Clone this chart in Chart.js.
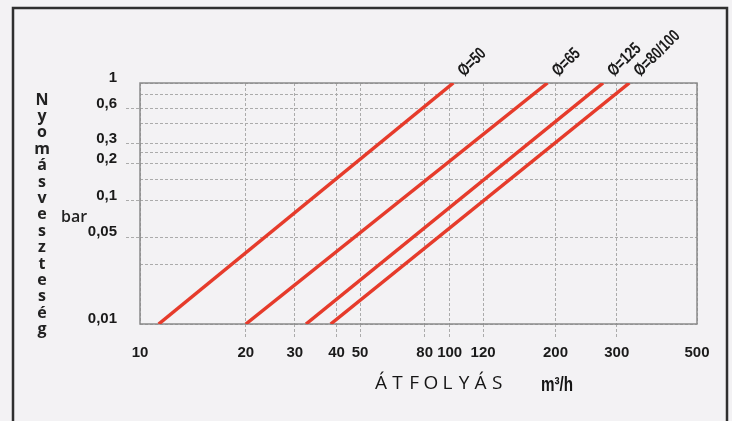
<!DOCTYPE html>
<html>
<head>
<meta charset="utf-8">
<script src="https://cdn.jsdelivr.net/npm/chart.js@4/dist/chart.umd.min.js"></script>
<style>
  html, body { margin: 0; padding: 0; background: #f3f2f4; }
  canvas { display: block; }
</style>
</head>
<body>
<canvas id="chart" width="732" height="421"></canvas>
<script>
// pipe sizes, flow where each line starts (0,01 bar) and where it ends (1 bar)
const pipeLabels = ['Ø=50', 'Ø=65', 'Ø=125', 'Ø=80/100'];
const flowAtMinLoss = [11.3, 20, 32.4, 38.4];
const flowAtMaxLoss = [102, 189, 274, 325];
const lossRange = [0.01, 1];

// grid lines / tick labels
const flowGrid = [10, 20, 30, 40, 50, 80, 100, 120, 200, 300, 500];
const lossGrid = [0.01, 0.03, 0.05, 0.1, 0.15, 0.2, 0.25, 0.3, 0.45, 0.6, 0.8, 1];
const lossLabels = [0.01, 0.05, 0.1, 0.2, 0.3, 0.6, 1];

// the printed axes are not evenly logarithmic, so every labelled value
// gets its own place along the axis (0 = start, 1 = end), log in between
const axisWarp = {
  x: { values: flowGrid, at: [0, 0.190, 0.278, 0.353, 0.395, 0.511, 0.556, 0.616, 0.746, 0.856, 1] },
  y: { values: lossLabels, at: [0, 0.360, 0.512, 0.664, 0.747, 0.893, 1] }
};

class WarpedLogScale extends Chart.LogarithmicScale {
  toDecimal(value) {
    const { values, at } = axisWarp[this.id];
    let i = 0;
    while (i < values.length - 2 && value > values[i + 1]) i++;
    const t = Math.log(value / values[i]) / Math.log(values[i + 1] / values[i]);
    return at[i] + t * (at[i + 1] - at[i]);
  }
  fromDecimal(dec) {
    const { values, at } = axisWarp[this.id];
    let i = 0;
    while (i < at.length - 2 && dec > at[i + 1]) i++;
    const t = (dec - at[i]) / (at[i + 1] - at[i]);
    return values[i] * Math.pow(values[i + 1] / values[i], t);
  }
  getPixelForValue(value) {
    if (value === null || value === undefined || isNaN(value)) return NaN;
    return this.getPixelForDecimal(this.toDecimal(value));
  }
  getValueForPixel(pixel) {
    return this.fromDecimal(this.getDecimalForPixel(pixel));
  }
}
WarpedLogScale.id = 'warpedLog';
WarpedLogScale.defaults = Chart.LogarithmicScale.defaults;
Chart.register(WarpedLogScale);

const gridColor = '#ababab';
const tickFont = { family: '"Liberation Sans", Arial, sans-serif', weight: 'bold', size: 15 };

// narrow bold text: no condensed face is installed, so squeeze it
function narrowText(ctx, text, x, y, squeeze) {
  ctx.save();
  ctx.translate(x, y);
  ctx.scale(squeeze, 1);
  ctx.fillText(text, 0, 0);
  ctx.restore();
}

const decorations = {
  id: 'decorations',
  beforeDraw(chart) {
    const { ctx, width, height } = chart;
    ctx.save();
    ctx.fillStyle = '#f3f2f4';
    ctx.fillRect(0, 0, width, height);
    ctx.strokeStyle = '#2f2f2f';
    ctx.lineWidth = 2.5;
    ctx.strokeRect(13, 8, 714, 440);
    ctx.restore();
  },
  beforeDatasetsDraw(chart) {
    const { ctx, chartArea: a } = chart;
    ctx.save();
    ctx.strokeStyle = '#8a8a8a';
    ctx.lineWidth = 1.5;
    ctx.strokeRect(a.left, a.top, a.right - a.left, a.bottom - a.top);
    ctx.restore();
  },
  afterDatasetsDraw(chart) {
    const { ctx } = chart;
    ctx.save();
    ctx.font = 'bold 17px "Liberation Sans", sans-serif';
    ctx.fillStyle = '#1a1a1a';
    ctx.textBaseline = 'alphabetic';
    chart.data.datasets.forEach((ds, i) => {
      const pts = chart.getDatasetMeta(i).data;
      const end = pts[pts.length - 1];
      ctx.save();
      ctx.translate(end.x + 11, end.y - 6);
      ctx.rotate(-Math.PI / 4);
      narrowText(ctx, ds.label, 0, 0, 0.76);
      ctx.restore();
    });
    ctx.restore();
  },
  afterDraw(chart) {
    const { ctx } = chart;
    ctx.save();
    ctx.fillStyle = '#222';
    // vertical title, one letter per line
    ctx.font = 'bold 16px "Open Sans", sans-serif';
    ctx.textAlign = 'center';
    ctx.textBaseline = 'middle';
    [...'Nyomásveszteség'].forEach((ch, i) => ctx.fillText(ch, 42, 100 + i * 16.4));
    ctx.textAlign = 'left';
    ctx.font = '600 16px "Open Sans", sans-serif';
    ctx.fillText('bar', 61, 217);
    // horizontal title
    ctx.fillStyle = '#151515';
    ctx.font = '19px "Open Sans", sans-serif';
    ctx.textAlign = 'center';
    [...'ÁTFOLYÁS'].forEach((ch, i) => ctx.fillText(ch, 381 + i * 16.6, 384));
    ctx.font = 'bold 20px "Liberation Sans", sans-serif';
    ctx.textAlign = 'left';
    narrowText(ctx, 'm³/h', 541, 385, 0.76);
    ctx.restore();
  }
};

new Chart(document.getElementById('chart'), {
  type: 'line',
  data: {
    datasets: pipeLabels.map((label, i) => ({
      label,
      data: [
        { x: flowAtMinLoss[i], y: lossRange[0] },
        { x: flowAtMaxLoss[i], y: lossRange[1] }
      ],
      borderColor: '#e63b2b',
      borderWidth: 3.5,
      borderCapStyle: 'butt',
      pointRadius: 0,
      fill: false
    }))
  },
  options: {
    responsive: false,
    animation: false,
    events: [],
    layout: { padding: { top: 83, right: 35, bottom: 0, left: 0 } },
    plugins: { legend: { display: false }, tooltip: { enabled: false } },
    scales: {
      x: {
        type: 'warpedLog',
        min: flowGrid[0],
        max: flowGrid[flowGrid.length - 1],
        afterBuildTicks: s => { s.ticks = flowGrid.map(value => ({ value })); },
        afterFit: s => { s.height = 97; },
        ticks: {
          autoSkip: false, maxRotation: 0, minRotation: 0,
          padding: 7,
          color: '#1a1a1a',
          font: tickFont,
          callback: v => String(v)
        },
        grid: {
          color: gridColor,
          lineWidth: 1,
          tickLength: 13,
          tickBorderDash: [3, 2],
          tickColor: c => (c.index > 0 && c.index < flowGrid.length - 1) ? gridColor : 'transparent'
        },
        border: { display: false, dash: [3, 2] }
      },
      y: {
        type: 'warpedLog',
        min: lossRange[0],
        max: lossRange[1],
        afterBuildTicks: s => { s.ticks = lossGrid.map(value => ({ value })); },
        afterFit: s => { s.width = 140; },
        ticks: {
          autoSkip: false,
          padding: 9,
          labelOffset: -5,
          color: '#1a1a1a',
          font: tickFont,
          callback: v => lossLabels.includes(v) ? String(v).replace('.', ',') : ''
        },
        grid: {
          color: gridColor,
          lineWidth: 1,
          tickLength: 14,
          tickBorderDash: [3, 2],
          tickColor: c => (c.tick && lossLabels.includes(c.tick.value) && c.index > 0 && c.index < lossGrid.length - 1) ? gridColor : 'transparent'
        },
        border: { display: false, dash: [3, 2] }
      }
    }
  },
  plugins: [decorations]
});
</script>
</body>
</html>
